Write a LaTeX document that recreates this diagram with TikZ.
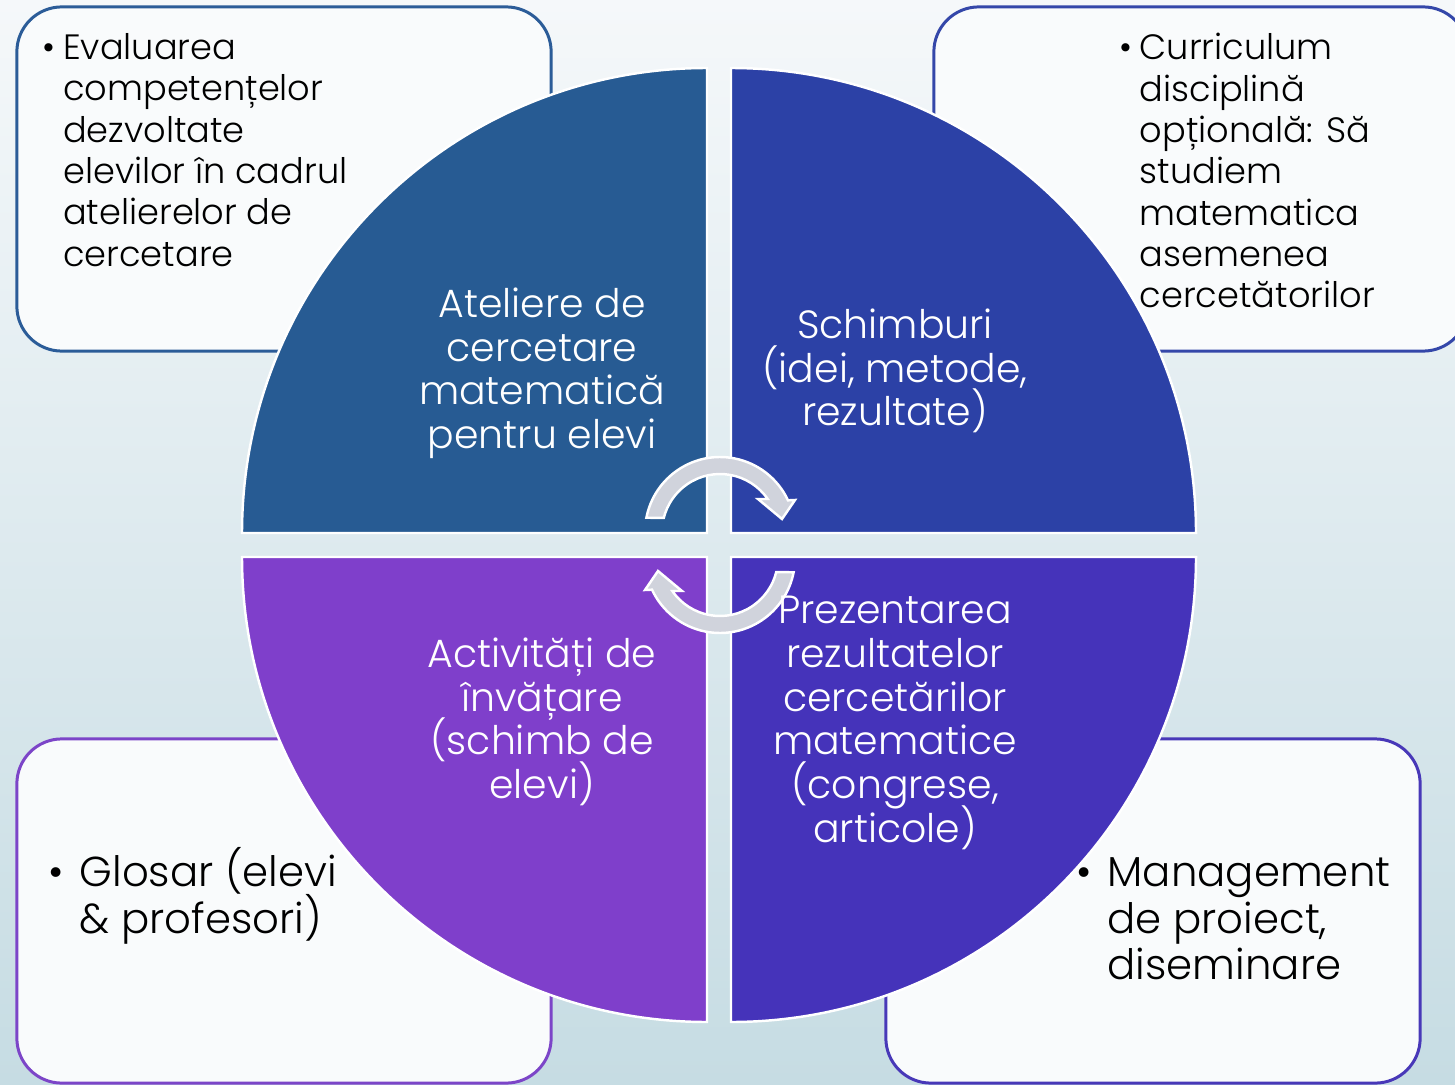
\documentclass[tikz,border=0pt]{standalone}
\usepackage{fontspec}
\setmainfont{Poppins Light}
\usepackage{xcolor}
\usetikzlibrary{positioning}
\definecolor{bgtop}{HTML}{F5F8FA}
\definecolor{bgbot}{HTML}{C6DCE3}
\definecolor{boxfill}{HTML}{F9FBFC}
\definecolor{quadTL}{HTML}{275B93}
\definecolor{quadTR}{HTML}{2C41A6}
\definecolor{quadBL}{HTML}{7F3FCB}
\definecolor{quadBR}{HTML}{4533BA}
\definecolor{lineTL}{HTML}{2B5C98}
\definecolor{lineTR}{HTML}{3447A9}
\definecolor{lineBL}{HTML}{7C45C8}
\definecolor{lineBR}{HTML}{4838B8}
\definecolor{arrowgray}{HTML}{D0D3DC}
\setlength{\lineskiplimit}{-100pt}
\newcommand{\bul}[1]{\makebox[#1][l]{\textbullet}}

\begin{document}
\begin{tikzpicture}[x=0.01cm,y=0.01cm,
        cornerbox/.style={draw=#1,fill=boxfill,line width=0.85pt,rounded corners=0.45cm,
            minimum width=5.34cm,minimum height=3.44cm},
        quad/.style={fill=#1,draw=white,line width=0.7pt},
        quadtext/.style={text=white,anchor=base,inner sep=0pt,align=center,
            font=\fontsize{11.2}{12.45}\selectfont},
        boxtext/.style={text=black,anchor=base west,inner sep=0pt,align=left,
            font=\fontsize{10}{11.75}\selectfont},
        bigboxtext/.style={text=black,anchor=base west,inner sep=0pt,align=left,
            font=\fontsize{11.9}{13.2}\selectfont},
        cyclearrow/.style={fill=arrowgray,draw=white,line width=0.7pt}]
        \useasboundingbox (0,0) rectangle (1455,1084);
        % Background
        \shade[top color=bgtop,bottom color=bgbot] (0,0) rectangle (1455,1084);
        % Corner boxes (text nodes sit on their last line)
        \node[cornerbox=lineTL] (boxTL) at (284,905) {};
        \node[cornerbox=lineTR] (boxTR) at (1201,905) {};
        \node[cornerbox=lineBL] (boxBL) at (284,173) {};
        \node[cornerbox=lineBR] (boxBR) at (1153,173) {};
        \node[boxtext] (txtTL) at (42,817.8) {\bul{0.205cm}Evaluarea\\
            \hspace*{0.205cm}competențelor\\ \hspace*{0.205cm}dezvoltate\\
            \hspace*{0.205cm}elevilor în cadrul\\ \hspace*{0.205cm}atelierelor de\\
            \hspace*{0.205cm}cercetare};
        \node[boxtext] (txtTR) at (1119,776.3) {\bul{0.2cm}Curriculum\\
            \hspace*{0.2cm}disciplină\\ \hspace*{0.2cm}opțională: Să\\
            \hspace*{0.2cm}studiem\\ \hspace*{0.2cm}matematica\\
            \hspace*{0.2cm}asemenea\\ \hspace*{0.2cm}cercetătorilor};
        \node[bigboxtext] (txtBL) at (48,150.6) {\bul{0.31cm}Glosar (elevi\\
            \hspace*{0.31cm}\& profesori)};
        \node[bigboxtext] (txtBR) at (1076,104.2) {\bul{0.31cm}Management\\
            \hspace*{0.31cm}de proiect,\\ \hspace*{0.31cm}diseminare};
        % Quadrants
        \filldraw[quad=quadTL] (707,551) -- (242,551) arc[start angle=180,end angle=90,radius=465] -- cycle;
        \filldraw[quad=quadTR] (731,551) -- (731,1016) arc[start angle=90,end angle=0,radius=465] -- cycle;
        \filldraw[quad=quadBL] (707,527) -- (707,62) arc[start angle=270,end angle=180,radius=465] -- cycle;
        \filldraw[quad=quadBR] (731,527) -- (1196,527) arc[start angle=0,end angle=-90,radius=465] -- cycle;
        % Circular arrows
        \filldraw[cyclearrow] (646.4,566.3) arc[start angle=169,end angle=25,radius=75]
            -- (795,584) -- (782,565) -- (758,585) -- (767.7,585)
            arc[start angle=34.7,end angle=166,radius=58] -- cycle;
        \filldraw[cyclearrow,rotate around={180:(720,539)}] (646.4,566.3) arc[start angle=169,end angle=25,radius=75]
            -- (795,584) -- (782,565) -- (758,585) -- (767.7,585)
            arc[start angle=34.7,end angle=166,radius=58] -- cycle;
        % Quadrant labels
        \node[quadtext] (atelier) at (542,635.3) {Ateliere de\\ cercetare\\ matematică\\ pentru elevi};
        \node[quadtext] (schimb) at (895,658.2) {Schimburi\\ (idei, metode,\\ rezultate)};
        \node[quadtext] (activ) at (542,285.3) {Activități de\\ învățare\\ (schimb de\\ elevi)};
        \node[quadtext] (prezent) at (895,241.5) {Prezentarea\\ rezultatelor\\ cercetărilor\\
            matematice\\ (congrese,\\ articole)};
\end{tikzpicture}
\end{document}
